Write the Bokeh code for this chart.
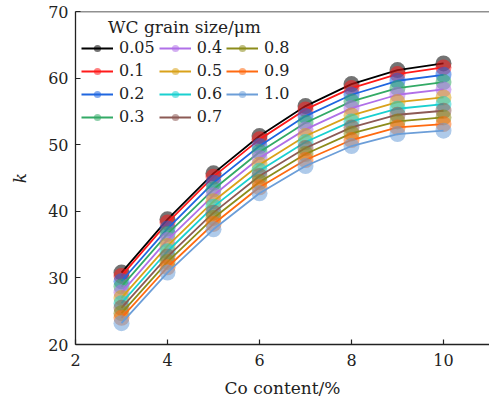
from bokeh.plotting import figure
from bokeh.models import Legend, LegendItem, Span, Range1d
from bokeh.embed import file_html
from bokeh.resources import INLINE

co_content = [3, 4, 5, 6, 7, 8, 9, 10]
grain_labels = ["0.05", "0.1", "0.2", "0.3", "0.4", "0.5", "0.6", "0.7", "0.8", "0.9", "1.0"]

k_005 = [30.8, 38.8, 45.7, 51.3, 55.8, 59.1, 61.2, 62.2]
k_01 = [30.3, 38.3, 45.2, 50.8, 55.3, 58.5, 60.6, 61.6]
k_02 = [29.5, 37.4, 44.3, 49.8, 54.3, 57.5, 59.6, 60.5]
k_03 = [28.7, 36.6, 43.3, 48.9, 53.3, 56.5, 58.5, 59.4]
k_04 = [27.8, 35.7, 42.4, 48.0, 52.3, 55.5, 57.5, 58.3]
k_05 = [27.0, 34.8, 41.5, 47.0, 51.3, 54.4, 56.4, 57.1]
k_06 = [26.2, 34.0, 40.7, 46.1, 50.4, 53.5, 55.4, 56.1]
k_07 = [25.5, 33.2, 39.8, 45.3, 49.5, 52.6, 54.5, 55.1]
k_08 = [24.7, 32.4, 39.0, 44.4, 48.6, 51.7, 53.5, 54.1]
k_09 = [24.0, 31.6, 38.1, 43.6, 47.7, 50.7, 52.6, 53.1]
k_10 = [23.2, 30.8, 37.3, 42.7, 46.8, 49.8, 51.6, 52.1]

series = [k_005, k_01, k_02, k_03, k_04, k_05, k_06, k_07, k_08, k_09, k_10]
colors = ["#000000", "#ff1a1a", "#1f66e0", "#33aa66", "#b070e8", "#d9a21a",
          "#1ad0d0", "#8c5a55", "#8c8c1a", "#ff6a10", "#6c9ed8"]

FONT = "DejaVu Serif"

p = figure(width=489, height=403, output_backend="svg", toolbar_location=None,
           x_range=Range1d(2, 11), y_range=Range1d(20, 70),
           min_border_left=75, min_border_right=0, min_border_top=11, min_border_bottom=59)
p.background_fill_color = "white"
p.border_fill_color = "white"
p.outline_line_color = None
p.xgrid.visible = False
p.ygrid.visible = False

p.xaxis.ticker = [2, 4, 6, 8, 10]
p.yaxis.ticker = [20, 30, 40, 50, 60, 70]
for ax in (p.xaxis, p.yaxis):
    ax.axis_line_color = "#222222"
    ax.axis_line_width = 1.3
    ax.major_tick_line_color = "#222222"
    ax.major_tick_line_width = 1.2
    ax.major_tick_in = 5
    ax.major_tick_out = 0
    ax.minor_tick_line_color = None
    ax.major_label_text_font = FONT
    ax.major_label_text_font_size = "16px"
    ax.major_label_text_color = "#222222"
    ax.axis_label_text_font = FONT
    ax.axis_label_text_font_size = "17px"
    ax.axis_label_text_font_style = "normal"
    ax.axis_label_text_color = "#222222"

p.xaxis.axis_label = "Co content/%"
p.xaxis.major_label_standoff = 9
p.xaxis.axis_label_standoff = 9
p.yaxis.axis_label = "k"
p.yaxis.axis_label_text_font_style = "italic"
p.yaxis.major_label_standoff = 7
p.yaxis.axis_label_standoff = 15

p.add_layout(Span(location=70, dimension="width", line_color="#222222", line_width=1.3))

items = []
for lab, ys, c in zip(grain_labels, series, colors):
    r_line = p.line(co_content, ys, line_color=c, line_width=1.8)
    r_pt = p.scatter(co_content, ys, size=16, fill_color=c, fill_alpha=0.55,
                     line_color=None)
    items.append(LegendItem(label=lab, renderers=[r_line, r_pt]))

legend = Legend(items=items, location="top_left", nrows=4,
                title="\u00a0\u00a0\u00a0\u00a0\u00a0WC grain size/μm",
                title_text_font=FONT, title_text_font_size="17px",
                title_text_font_style="normal",
                title_text_color="#222222", title_standoff=1,
                label_text_font=FONT, label_text_font_size="16px",
                label_text_color="#222222",
                glyph_width=32, glyph_height=18, label_standoff=6,
                spacing=4, padding=4, margin=6,
                background_fill_alpha=0, border_line_color=None)
p.add_layout(legend)

open("out.html", "w").write(file_html(p, INLINE))
